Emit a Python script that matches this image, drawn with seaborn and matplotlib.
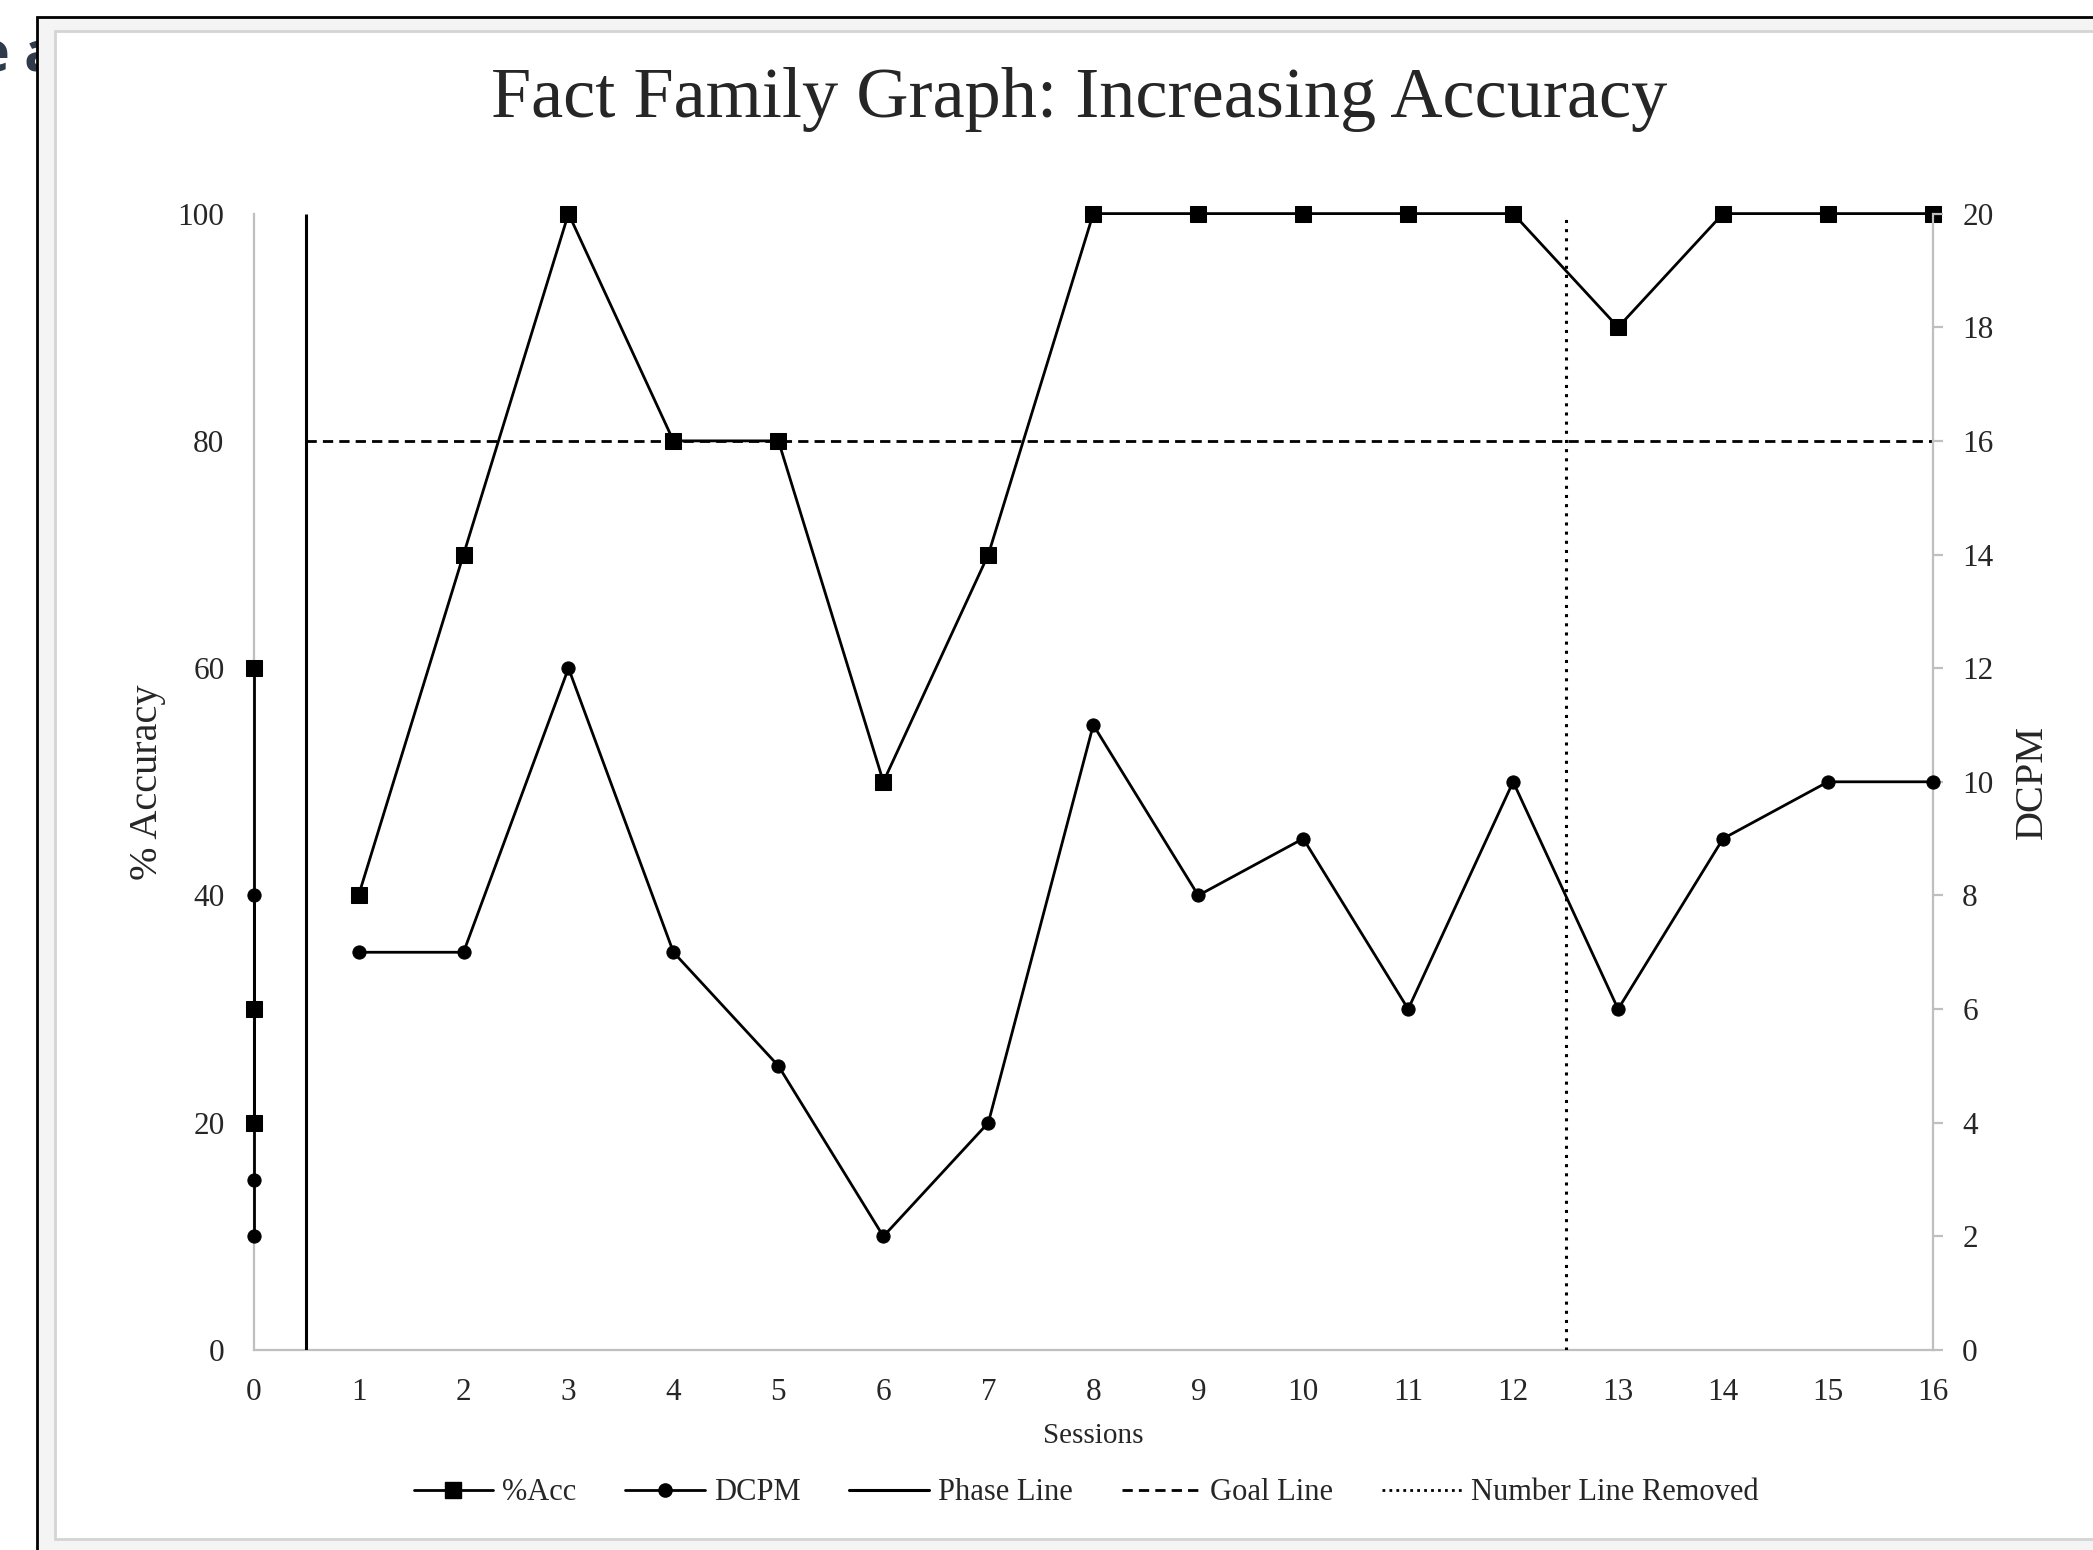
import matplotlib
matplotlib.use("Agg")
import matplotlib.pyplot as plt
import seaborn as sns
from matplotlib.lines import Line2D
from matplotlib.patches import Rectangle

# Data
sessions = list(range(1, 17))
acc = [40, 70, 100, 80, 80, 50, 70, 100, 100, 100, 100, 100, 90, 100, 100, 100]
dcpm = [7, 7, 12, 7, 5, 2, 4, 11, 8, 9, 6, 10, 6, 9, 10, 10]
baseline_acc = [60, 30, 20]
baseline_dcpm = [8, 3, 2]
phase_x = 0.5
goal_y = 80
removed_x = 12.5
x_ticks = list(range(0, 17))
acc_ticks = [0, 20, 40, 60, 80, 100]
dcpm_ticks = [0, 2, 4, 6, 8, 10, 12, 14, 16, 18, 20]

sns.set_style("white")
plt.rcParams["font.family"] = ["Liberation Serif", "DejaVu Serif"]

W, H = 2093, 1550
fig = plt.figure(figsize=(W / 100, H / 100), dpi=100)

# screenshot frame + bit of page text behind it
fig.text(-23 / W, 1 - 72 / H, "e a", fontsize=40, fontweight="bold",
         family=["Open Sans", "DejaVu Sans"], color="#2f3b4b", zorder=0.5)
fig.patches.append(Rectangle((37 / W, -0.1), 1.2, 1.1 - 17 / H,
                             transform=fig.transFigure, facecolor="#f4f4f4",
                             edgecolor="black", lw=2, zorder=1))
fig.patches.append(Rectangle((55 / W, 11 / H), 1.2, 1 - 31 / H - 11 / H,
                             transform=fig.transFigure, facecolor="white",
                             edgecolor="#d4d4d4", lw=2, zorder=1.1))

ax = fig.add_axes([253.6 / W, 200 / H, (1933 - 253.6) / W, (1350 - 213.6) / H])
ax2 = ax.twinx()
ax.set_zorder(2)
ax2.set_zorder(3)
ax.patch.set_visible(False)
ax2.patch.set_visible(False)

line_kw = dict(color="black", lw=2, estimator=None, sort=False, clip_on=False,
               zorder=5)

# %Acc on left axis
sns.lineplot(x=[0] * len(baseline_acc), y=baseline_acc, ax=ax, marker="s",
             markersize=12, markeredgecolor="black", **line_kw)
sns.lineplot(x=sessions, y=acc, ax=ax, marker="s", markersize=12,
             markeredgecolor="black", **line_kw)

# DCPM on right axis
sns.lineplot(x=[0] * len(baseline_dcpm), y=baseline_dcpm, ax=ax2, marker="o",
             markersize=9.5, markeredgecolor="black", **line_kw)
sns.lineplot(x=sessions, y=dcpm, ax=ax2, marker="o", markersize=9.5,
             markeredgecolor="black", **line_kw)

# phase / goal / removed lines
ax.vlines(phase_x, 0, 100, color="black", lw=2.2, zorder=4)
ax.hlines(goal_y, phase_x, 16, color="black", lw=2, linestyles=(0, (3.7, 2.2)),
          zorder=4)
ax.vlines(removed_x, 0, 100, color="black", lw=2.2, linestyles=(0, (1, 2)),
          zorder=4)

ax.set_xlim(0, 16)
ax.set_ylim(0, 100)
ax2.set_ylim(0, 20)
ax.set_xticks(x_ticks)
ax.set_yticks(acc_ticks)
ax2.set_yticks(dcpm_ticks)

grey = "#bfbfbf"
for s in ["top", "right"]:
    ax.spines[s].set_visible(False)
for s in ["left", "bottom"]:
    ax.spines[s].set_color(grey)
    ax.spines[s].set_linewidth(1.6)
for s in ["top", "left", "bottom"]:
    ax2.spines[s].set_visible(False)
ax2.spines["right"].set_color(grey)
ax2.spines["right"].set_linewidth(1.6)

ax.tick_params(axis="x", length=0, pad=20, labelsize=22.5)
ax.tick_params(axis="y", length=0, pad=21, labelsize=22.5)
ax2.tick_params(axis="y", length=7, width=1.6, color=grey, pad=14,
                labelsize=22.5, direction="out")

ax.set_xlabel("Sessions", fontsize=21)
ax.set_ylabel("% Accuracy", fontsize=29)
ax2.set_ylabel("DCPM", fontsize=29)
ax.xaxis.set_label_coords(0.5, (1350 - 1436) / 1136.4)
ax.xaxis.label.set_va("center")
ax.yaxis.set_label_coords((147 - 253.6) / 1679.4, 0.5)
ax.yaxis.label.set_va("center")
ax2.yaxis.set_label_coords((2032 - 253.6) / 1679.4, 0.5)
ax2.yaxis.label.set_va("center")
ax2.yaxis.label.set_rotation(90)

fig.text(1079 / W, 1 - 100 / H, "Fact Family Graph: Increasing Accuracy",
         fontsize=52, ha="center", va="center", zorder=4)

handles = [
    Line2D([], [], color="black", lw=2, marker="s", markersize=12),
    Line2D([], [], color="black", lw=2, marker="o", markersize=9.5),
    Line2D([], [], color="black", lw=2.2),
    Line2D([], [], color="black", lw=2, linestyle=(0, (3.7, 2.2))),
    Line2D([], [], color="black", lw=2, linestyle=(0, (1, 1.5))),
]
labels = ["%Acc", "DCPM", "Phase Line", "Goal Line", "Number Line Removed"]
fig.legend(handles, labels, loc="center", bbox_to_anchor=(1086 / W, 57 / H),
           ncol=5, frameon=False, fontsize=22, handlelength=2.6,
           handletextpad=0.3, columnspacing=1.6)

fig.savefig("out.png", dpi=100)
